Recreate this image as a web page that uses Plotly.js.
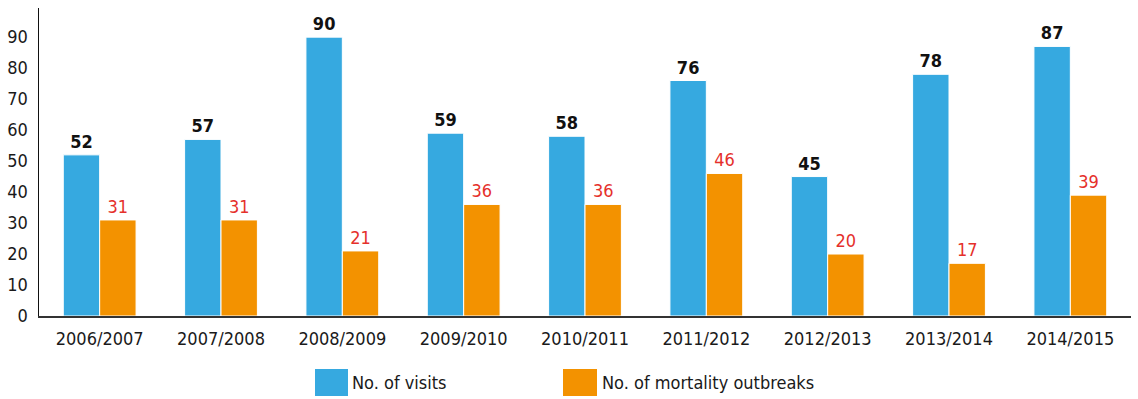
<!DOCTYPE html>
<html><head><meta charset="utf-8">
<script src="https://cdn.plot.ly/plotly-3.0.1.min.js"></script>
<style>html,body{margin:0;padding:0;background:#fff}#chart{width:1138px;height:399px}
#chart svg text{font-stretch:condensed !important;}</style>
</head><body><div id="chart"></div>
<script>
const categories = ["2006/2007","2007/2008","2008/2009","2009/2010","2010/2011","2011/2012","2012/2013","2013/2014","2014/2015"];
const visits = [52,57,90,59,58,76,45,78,87];
const outbreaks = [31,31,21,36,36,46,20,17,39];
const seriesNames = ["No. of visits","No. of mortality outbreaks"];
const tickVals = [0,10,20,30,40,50,60,70,80,90];

const FONT = "'DejaVu Sans Condensed','DejaVu Sans',sans-serif";
const BLUE = "#36a9e0", ORANGE = "#f39200", RED = "#e5302b";

const traces = [
  {type:'bar', x:categories, y:visits, name:seriesNames[0],
   marker:{color:BLUE, line:{color:'#fff', width:1}},
   text:visits.map(String), textposition:'outside', cliponaxis:false,
   textfont:{family:FONT, size:18, color:'#111', weight:600}},
  {type:'bar', x:categories, y:outbreaks, name:seriesNames[1],
   marker:{color:ORANGE, line:{color:'#fff', width:1}},
   text:outbreaks.map(String), textposition:'outside', cliponaxis:false,
   textfont:{family:FONT, size:18, color:RED}}
];

const L = 39, PW = 1092;
const layout = {
  width:1138, height:399,
  margin:{l:L, r:1138-L-PW, t:8, b:83},
  barmode:'group', bargap:0.4, bargroupgap:0,
  showlegend:false,
  paper_bgcolor:'#fff', plot_bgcolor:'#fff',
  font:{family:FONT, size:18, color:'#1a1a1a'},
  xaxis:{showline:true, linecolor:'#333', linewidth:1.5, ticks:'', showgrid:false,
         ticklabelstandoff:6,
         tickfont:{family:FONT, size:18, color:'#1a1a1a'}},
  yaxis:{range:[0,99.4], tickvals:tickVals, showgrid:false, zeroline:false,
         showline:true, linecolor:'#111', linewidth:1.5, ticks:'',
         ticklabelstandoff:6,
         tickfont:{family:FONT, size:18, color:'#1a1a1a'}},
  shapes:[
    {type:'rect', xref:'paper', yref:'paper', x0:(315-L)/PW, x1:(348-L)/PW, y0:-(396-316)/308, y1:-(369-316)/308, fillcolor:BLUE, line:{width:0}},
    {type:'rect', xref:'paper', yref:'paper', x0:(563-L)/PW, x1:(597-L)/PW, y0:-(396-316)/308, y1:-(369-316)/308, fillcolor:ORANGE, line:{width:0}}
  ],
  annotations:[
    {xref:'paper', yref:'paper', x:(350-L)/PW, y:-(382.5-316)/308, xanchor:'left', yanchor:'middle', showarrow:false, text:seriesNames[0], font:{family:FONT, size:18, color:'#1a1a1a'}},
    {xref:'paper', yref:'paper', x:(600-L)/PW, y:-(382.5-316)/308, xanchor:'left', yanchor:'middle', showarrow:false, text:seriesNames[1], font:{family:FONT, size:18, color:'#1a1a1a'}}
  ]
};
Plotly.newPlot('chart', traces, layout, {displayModeBar:false, staticPlot:true});
</script></body></html>
